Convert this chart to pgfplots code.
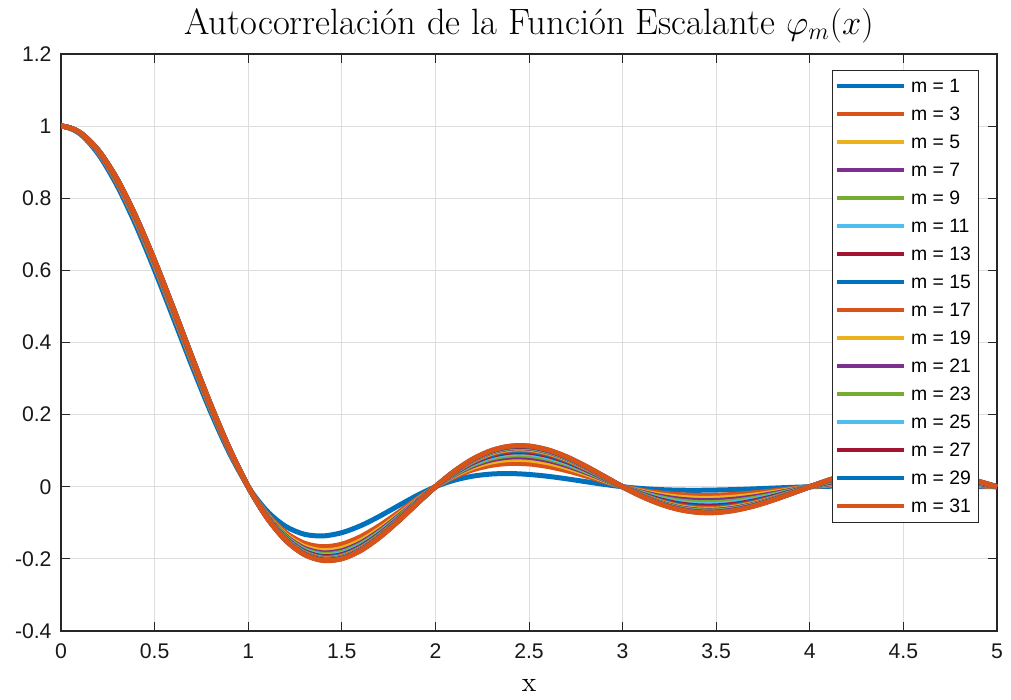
\documentclass[border=0pt]{standalone}
\usepackage{fontspec}
\usepackage{pgfplots}
\usepackage{pgfplotstable}
\pgfplotsset{compat=1.18}
\newfontfamily\arial{Liberation Sans}

% MATLAB default line colours
\definecolor{c1}{rgb}{0,0.447,0.741}
\definecolor{c2}{rgb}{0.850,0.325,0.098}
\definecolor{c3}{rgb}{0.929,0.694,0.125}
\definecolor{c4}{rgb}{0.494,0.184,0.556}
\definecolor{c5}{rgb}{0.466,0.674,0.188}
\definecolor{c6}{rgb}{0.301,0.745,0.933}
\definecolor{c7}{rgb}{0.635,0.078,0.184}

% autocorrelation of phi_m, sampled every 0.1 (even function: the x=-0.1 row
% only steers the smoothing at the peak and lies outside the axis)
\pgfplotstableread{
x m1 m3 m5 m7 m9 m11 m13 m15 m17 m19 m21 m23 m25 m27 m29 m31
-0.1 0.9792 0.9807 0.9812 0.9815 0.9818 0.9819 0.9821 0.9822 0.9823 0.9823 0.9824 0.9824 0.9825 0.9825 0.9826 0.9827
0.0 1 1 1 1 1 1 1 1 1 1 1 1 1 1 1 1
0.1 0.9792 0.9807 0.9812 0.9815 0.9818 0.9819 0.9821 0.9822 0.9823 0.9823 0.9824 0.9824 0.9825 0.9825 0.9826 0.9827
0.2 0.9217 0.9265 0.9283 0.9293 0.9300 0.9305 0.9309 0.9313 0.9316 0.9318 0.9320 0.9322 0.9324 0.9325 0.9326 0.9327
0.3 0.8346 0.8428 0.8458 0.8474 0.8486 0.8495 0.8502 0.8508 0.8513 0.8517 0.8521 0.8524 0.8526 0.8528 0.8530 0.8532
0.4 0.7252 0.7358 0.7397 0.7418 0.7433 0.7445 0.7454 0.7462 0.7469 0.7474 0.7479 0.7482 0.7486 0.7488 0.7491 0.7493
0.5 0.6005 0.6125 0.6168 0.6193 0.6209 0.6223 0.6233 0.6242 0.6250 0.6255 0.6261 0.6265 0.6269 0.6272 0.6274 0.6277
0.6 0.4678 0.4800 0.4844 0.4869 0.4886 0.4900 0.4911 0.4919 0.4927 0.4933 0.4938 0.4943 0.4947 0.4949 0.4952 0.4955
0.7 0.3342 0.3453 0.3494 0.3517 0.3532 0.3544 0.3555 0.3562 0.3570 0.3575 0.3580 0.3584 0.3587 0.3590 0.3592 0.3594
0.8 0.2069 0.2159 0.2191 0.2210 0.2222 0.2232 0.2240 0.2246 0.2253 0.2257 0.2261 0.2264 0.2267 0.2269 0.2271 0.2273
0.9 0.0931 0.0986 0.1007 0.1018 0.1026 0.1032 0.1037 0.1041 0.1044 0.1047 0.1049 0.1051 0.1053 0.1054 0.1056 0.1057
1.0 0 0 0 0 0 0 0 0 0 0 0 0 0 0 0 0
1.1 -0.0671 -0.0753 -0.0783 -0.0799 -0.0811 -0.0820 -0.0827 -0.0833 -0.0838 -0.0842 -0.0846 -0.0849 -0.0851 -0.0853 -0.0855 -0.0857
1.2 -0.1098 -0.1269 -0.1331 -0.1366 -0.1390 -0.1409 -0.1425 -0.1436 -0.1448 -0.1456 -0.1464 -0.1469 -0.1475 -0.1479 -0.1483 -0.1487
1.3 -0.1317 -0.1566 -0.1656 -0.1707 -0.1741 -0.1769 -0.1792 -0.1809 -0.1826 -0.1837 -0.1848 -0.1857 -0.1865 -0.1871 -0.1876 -0.1882
1.4 -0.1364 -0.1664 -0.1773 -0.1835 -0.1876 -0.1910 -0.1937 -0.1957 -0.1978 -0.1991 -0.2005 -0.2015 -0.2026 -0.2032 -0.2039 -0.2046
1.5 -0.1274 -0.1593 -0.1709 -0.1774 -0.1818 -0.1854 -0.1883 -0.1905 -0.1927 -0.1941 -0.1956 -0.1966 -0.1977 -0.1985 -0.1992 -0.1999
1.6 -0.1082 -0.1386 -0.1497 -0.1559 -0.1600 -0.1635 -0.1662 -0.1683 -0.1704 -0.1718 -0.1732 -0.1742 -0.1752 -0.1759 -0.1766 -0.1773
1.7 -0.0823 -0.1082 -0.1176 -0.1229 -0.1265 -0.1294 -0.1318 -0.1335 -0.1353 -0.1365 -0.1377 -0.1385 -0.1394 -0.1400 -0.1406 -0.1412
1.8 -0.0533 -0.0723 -0.0792 -0.0830 -0.0856 -0.0878 -0.0895 -0.0908 -0.0921 -0.0930 -0.0938 -0.0945 -0.0951 -0.0955 -0.0960 -0.0964
1.9 -0.0247 -0.0348 -0.0385 -0.0406 -0.0420 -0.0431 -0.0440 -0.0447 -0.0454 -0.0459 -0.0463 -0.0467 -0.0470 -0.0472 -0.0475 -0.0477
2.0 0 0 0 0 0 0 0 0 0 0 0 0 0 0 0 0
2.1 0.0180 0.0271 0.0306 0.0328 0.0345 0.0360 0.0373 0.0383 0.0392 0.0400 0.0407 0.0412 0.0417 0.0421 0.0425 0.0427
2.2 0.0294 0.0470 0.0537 0.0580 0.0613 0.0641 0.0665 0.0684 0.0703 0.0718 0.0732 0.0741 0.0751 0.0758 0.0765 0.0770
2.3 0.0353 0.0595 0.0687 0.0746 0.0792 0.0831 0.0864 0.0890 0.0916 0.0936 0.0956 0.0969 0.0982 0.0992 0.1001 0.1008
2.4 0.0366 0.0648 0.0755 0.0823 0.0877 0.0922 0.0960 0.0991 0.1021 0.1044 0.1067 0.1082 0.1098 0.1109 0.1120 0.1128
2.5 0.0341 0.0633 0.0744 0.0815 0.0870 0.0918 0.0957 0.0989 0.1020 0.1044 0.1068 0.1084 0.1099 0.1111 0.1123 0.1131
2.6 0.0290 0.0562 0.0665 0.0732 0.0783 0.0827 0.0864 0.0894 0.0923 0.0945 0.0967 0.0982 0.0997 0.1008 0.1019 0.1026
2.7 0.0221 0.0448 0.0534 0.0589 0.0632 0.0668 0.0699 0.0724 0.0748 0.0767 0.0785 0.0797 0.0809 0.0819 0.0828 0.0834
2.8 0.0143 0.0304 0.0365 0.0405 0.0435 0.0461 0.0483 0.0501 0.0518 0.0531 0.0544 0.0553 0.0562 0.0568 0.0575 0.0579
2.9 0.0066 0.0150 0.0181 0.0202 0.0217 0.0231 0.0242 0.0251 0.0260 0.0267 0.0274 0.0278 0.0283 0.0286 0.0290 0.0292
3.0 0 0 0 0 0 0 0 0 0 0 0 0 0 0 0 0
3.1 -0.0048 -0.0097 -0.0125 -0.0147 -0.0166 -0.0183 -0.0199 -0.0211 -0.0222 -0.0231 -0.0239 -0.0246 -0.0252 -0.0257 -0.0260 -0.0263
3.2 -0.0079 -0.0171 -0.0223 -0.0263 -0.0299 -0.0331 -0.0359 -0.0383 -0.0403 -0.0419 -0.0435 -0.0447 -0.0459 -0.0467 -0.0473 -0.0479
3.3 -0.0095 -0.0219 -0.0288 -0.0342 -0.0390 -0.0433 -0.0471 -0.0503 -0.0530 -0.0551 -0.0573 -0.0589 -0.0605 -0.0616 -0.0624 -0.0632
3.4 -0.0098 -0.0239 -0.0319 -0.0380 -0.0436 -0.0485 -0.0528 -0.0565 -0.0595 -0.0620 -0.0644 -0.0663 -0.0681 -0.0694 -0.0703 -0.0712
3.5 -0.0091 -0.0235 -0.0317 -0.0380 -0.0436 -0.0487 -0.0531 -0.0568 -0.0600 -0.0625 -0.0650 -0.0669 -0.0688 -0.0700 -0.0710 -0.0719
3.6 -0.0078 -0.0211 -0.0286 -0.0344 -0.0396 -0.0442 -0.0483 -0.0517 -0.0546 -0.0569 -0.0592 -0.0610 -0.0627 -0.0639 -0.0647 -0.0656
3.7 -0.0059 -0.0169 -0.0232 -0.0280 -0.0323 -0.0361 -0.0395 -0.0424 -0.0448 -0.0467 -0.0486 -0.0501 -0.0515 -0.0525 -0.0532 -0.0539
3.8 -0.0038 -0.0116 -0.0161 -0.0195 -0.0226 -0.0253 -0.0277 -0.0297 -0.0314 -0.0328 -0.0341 -0.0352 -0.0362 -0.0369 -0.0374 -0.0379
3.9 -0.0018 -0.0058 -0.0081 -0.0099 -0.0115 -0.0129 -0.0141 -0.0152 -0.0161 -0.0168 -0.0175 -0.0180 -0.0185 -0.0189 -0.0191 -0.0194
4.0 0 0 0 0 0 0 0 0 0 0 0 0 0 0 0 0
4.1 0.0013 0.0039 0.0058 0.0075 0.0090 0.0106 0.0120 0.0132 0.0142 0.0152 0.0161 0.0168 0.0173 0.0178 0.0182 0.0185
4.2 0.0021 0.0069 0.0105 0.0137 0.0166 0.0195 0.0221 0.0243 0.0263 0.0282 0.0298 0.0311 0.0320 0.0330 0.0337 0.0343
4.3 0.0025 0.0090 0.0138 0.0182 0.0221 0.0260 0.0295 0.0326 0.0352 0.0378 0.0400 0.0417 0.0430 0.0444 0.0452 0.0461
4.4 0.0026 0.0102 0.0157 0.0207 0.0253 0.0298 0.0338 0.0374 0.0404 0.0434 0.0459 0.0480 0.0495 0.0510 0.0520 0.0530
4.5 0.0025 0.0103 0.0160 0.0212 0.0259 0.0306 0.0347 0.0384 0.0415 0.0446 0.0472 0.0493 0.0509 0.0524 0.0535 0.0545
4.6 0.0021 0.0094 0.0147 0.0196 0.0240 0.0283 0.0322 0.0356 0.0386 0.0415 0.0439 0.0458 0.0473 0.0488 0.0497 0.0507
4.7 0.0016 0.0077 0.0122 0.0162 0.0199 0.0235 0.0268 0.0296 0.0321 0.0345 0.0365 0.0381 0.0394 0.0406 0.0414 0.0422
4.8 0.0010 0.0054 0.0085 0.0114 0.0141 0.0167 0.0190 0.0210 0.0228 0.0245 0.0259 0.0271 0.0280 0.0288 0.0294 0.0300
4.9 0.0005 0.0028 0.0044 0.0059 0.0073 0.0086 0.0098 0.0109 0.0118 0.0127 0.0134 0.0140 0.0145 0.0149 0.0152 0.0155
5.0 0 0 0 0 0 0 0 0 0 0 0 0 0 0 0 0
}\phidata

\begin{document}
\begin{tikzpicture}
\begin{axis}[
  name=ax,
  scale only axis,
  width=468pt, height=288.5pt,
  xmin=0, xmax=5, ymin=-0.4, ymax=1.2,
  xtick={0,0.5,1,1.5,2,2.5,3,3.5,4,4.5,5},
  xticklabels={0,0.5,1,1.5,2,2.5,3,3.5,4,4.5,5},
  ytick={-0.4,-0.2,0,0.2,0.4,0.6,0.8,1,1.2},
  yticklabels={-0.4,-0.2,0,0.2,0.4,0.6,0.8,1,1.2},
  tick label style={font=\arial\fontsize{10.6}{12}\selectfont, text=black!90},
  xticklabel style={yshift=-3pt},
  yticklabel style={xshift=-1.2pt},
  grid=major,
  major grid style={black!13, line width=0.5pt},
  axis line style={black!85, line width=0.6pt},
  tick align=inside,
  major tick length=4.7pt,
  tick style={black!85, line width=0.5pt},
  title={Autocorrelación de la Función Escalante $\varphi_m(x)$},
  title style={font=\fontsize{18.3}{22}\selectfont, yshift=-4pt},
  xlabel={x},
  xlabel style={font=\fontsize{14}{16}\selectfont, at={(rel axis cs:0.5,0)}, anchor=base, yshift=-30.5pt},
  legend cell align=left,
  legend image code/.code={\draw[#1, line width=2pt] (0pt,0pt) -- (33.5pt,0pt);},
  legend style={
    at={(rel axis cs:0.9808,0.9723)}, anchor=north east,
    draw=black!85, line width=0.5pt, fill=white,
    font=\arial\fontsize{9.7}{10}\selectfont,
    inner xsep=1.5pt, inner ysep=1pt, row sep=0pt,
    nodes={inner xsep=2.3pt, inner ysep=2.9pt, text height=7pt, text depth=1.2pt},
  },
  every axis plot/.append style={line width=2.5pt, line join=round, smooth, tension=0.5},
]
\addplot[c1] table[x=x, y=m1] {\phidata};
\addplot[c2] table[x=x, y=m3] {\phidata};
\addplot[c3] table[x=x, y=m5] {\phidata};
\addplot[c4] table[x=x, y=m7] {\phidata};
\addplot[c5] table[x=x, y=m9] {\phidata};
\addplot[c6] table[x=x, y=m11] {\phidata};
\addplot[c7] table[x=x, y=m13] {\phidata};
\addplot[c1] table[x=x, y=m15] {\phidata};
\addplot[c2] table[x=x, y=m17] {\phidata};
\addplot[c3] table[x=x, y=m19] {\phidata};
\addplot[c4] table[x=x, y=m21] {\phidata};
\addplot[c5] table[x=x, y=m23] {\phidata};
\addplot[c6] table[x=x, y=m25] {\phidata};
\addplot[c7] table[x=x, y=m27] {\phidata};
\addplot[c1] table[x=x, y=m29] {\phidata};
\addplot[c2] table[x=x, y=m31] {\phidata};
\legend{m = 1, m = 3, m = 5, m = 7, m = 9, m = 11, m = 13, m = 15, m = 17, m = 19, m = 21, m = 23, m = 25, m = 27, m = 29, m = 31}
\end{axis}
\pgfresetboundingbox
\path[use as bounding box] ([xshift=-30.5pt,yshift=-34.5pt]ax.south west) rectangle ([xshift=7pt,yshift=27pt]ax.north east);
\end{tikzpicture}
\end{document}
